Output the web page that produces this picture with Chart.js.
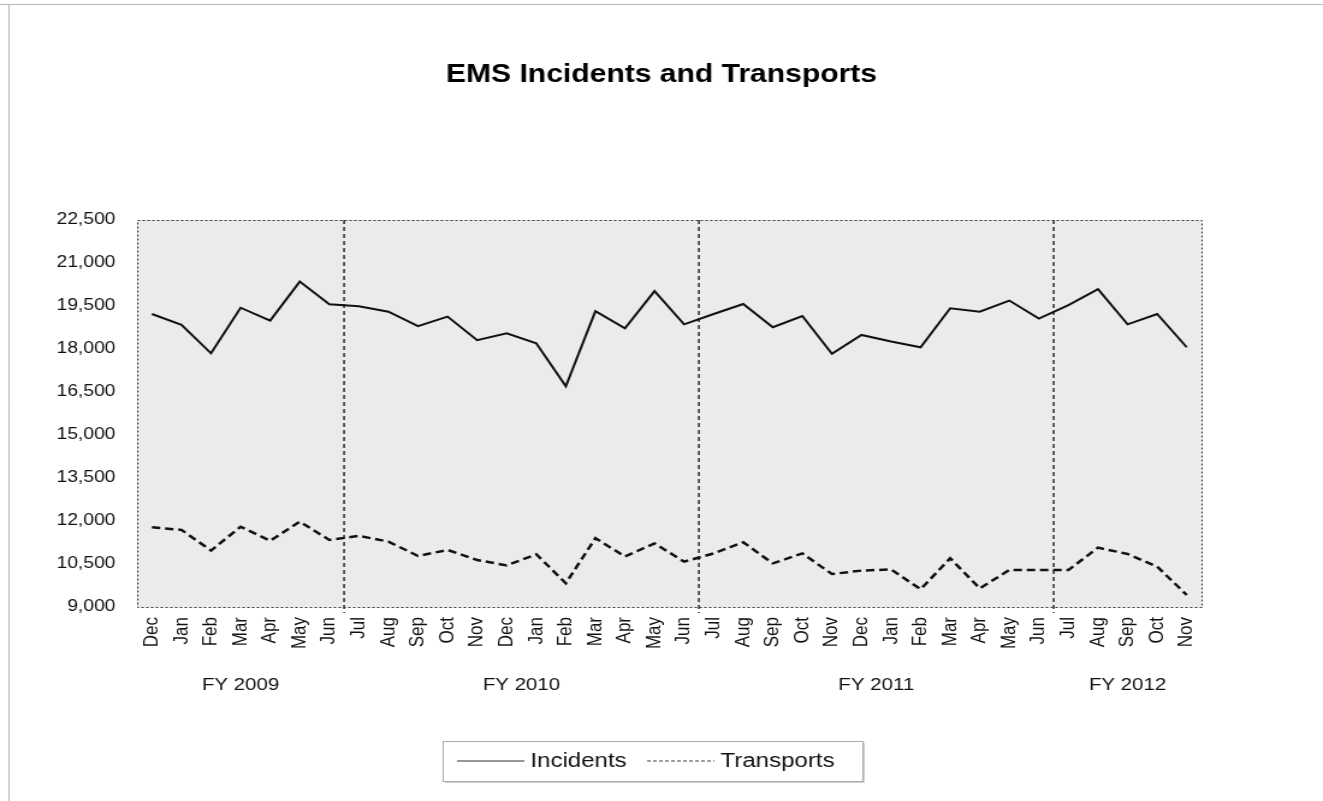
<!DOCTYPE html>
<html>
<head>
<meta charset="utf-8">
<title>EMS Incidents and Transports</title>
<script src="https://cdn.jsdelivr.net/npm/chart.js@4.4.0/dist/chart.umd.min.js"></script>
<style>
  html, body { margin: 0; padding: 0; background: #fff; overflow: hidden; }
  /* the scanned original is stretched sideways, so the whole chart is too */
  #wrap { width: 1100px; height: 801px; transform: scaleX(1.2027); transform-origin: 0 0; }
</style>
</head>
<body>
<div id="wrap"><canvas id="emsChart"></canvas></div>

<script>
var chartTitle = 'EMS Incidents and Transports';

var months = ['Dec','Jan','Feb','Mar','Apr','May','Jun',
  'Jul','Aug','Sep','Oct','Nov','Dec','Jan','Feb','Mar','Apr','May','Jun',
  'Jul','Aug','Sep','Oct','Nov','Dec','Jan','Feb','Mar','Apr','May','Jun',
  'Jul','Aug','Sep','Oct','Nov'];

var incidents = [19220, 18840, 17850, 19440, 18990, 20350, 19560,
  19490, 19300, 18800, 19130, 18310, 18550, 18200, 16700, 19320, 18720, 20020, 18860,
  19220, 19570, 18760, 19150, 17830, 18490, 18260, 18060, 19420, 19300, 19690, 19060,
  19530, 20090, 18860, 19220, 18060];

var transports = [11780, 11690, 10970, 11800, 11310, 11980, 11340,
  11480, 11280, 10780, 10990, 10640, 10450, 10840, 9830, 11400, 10760, 11220, 10580,
  10870, 11260, 10520, 10870, 10150, 10270, 10310, 9620, 10700, 9650, 10290, 10290,
  10290, 11070, 10850, 10410, 9420];

// fiscal year groups (first and last month index)
var fyLabels = ['FY 2009', 'FY 2010', 'FY 2011', 'FY 2012'];
var fyFirst = [0, 7, 19, 31];
var fyLast = [6, 18, 30, 35];

var yTickValues = [9000, 10500, 12000, 13500, 15000, 16500, 18000, 19500, 21000, 22500];
var yTickLabels = ['9,000', '10,500', '12,000', '13,500', '15,000', '16,500', '18,000', '19,500', '21,000', '22,500'];

var FONT = '"Liberation Sans", Arial, sans-serif';

var decorPlugin = {
  id: 'decor',
  beforeDraw: function (chart) {
    var ctx = chart.ctx, a = chart.chartArea;
    ctx.save();
    ctx.fillStyle = '#ffffff';
    ctx.fillRect(0, 0, chart.width, chart.height);
    // faint scan edges
    ctx.strokeStyle = '#b8b8b8';
    ctx.lineWidth = 1;
    ctx.beginPath();
    ctx.moveTo(0, 4.5); ctx.lineTo(chart.width, 4.5);
    ctx.moveTo(7.5, 4); ctx.lineTo(7.5, chart.height);
    ctx.stroke();
    ctx.fillStyle = '#ebebeb';
    ctx.fillRect(a.left, a.top, a.right - a.left, a.bottom - a.top);
    ctx.restore();
  },
  beforeDatasetsDraw: function (chart) {
    var ctx = chart.ctx, a = chart.chartArea, xs = chart.scales.x;
    ctx.save();
    ctx.strokeStyle = '#111';
    ctx.lineWidth = 1.3;
    ctx.setLineDash([4, 3]);
    for (var g = 1; g < fyFirst.length; g++) {
      var x = (xs.getPixelForValue(fyFirst[g] - 1) + xs.getPixelForValue(fyFirst[g])) / 2;
      ctx.beginPath();
      ctx.moveTo(x, a.top);
      ctx.lineTo(x, a.bottom + 6);
      ctx.stroke();
    }
    ctx.restore();
  },
  afterDraw: function (chart) {
    var ctx = chart.ctx, a = chart.chartArea, xs = chart.scales.x;
    ctx.save();
    // plot border
    ctx.strokeStyle = '#333';
    ctx.lineWidth = 1;
    ctx.setLineDash([2, 2]);
    ctx.strokeRect(a.left + 0.5, a.top + 0.5, a.right - a.left, a.bottom - a.top);
    ctx.setLineDash([]);

    // title
    ctx.fillStyle = '#000';
    ctx.font = 'bold 25px ' + FONT;
    ctx.textAlign = 'center';
    ctx.textBaseline = 'middle';
    ctx.fillText(chartTitle, chart.width / 2, 75);

    // fiscal year labels
    ctx.font = '17px ' + FONT;
    ctx.fillStyle = '#111';
    for (var g = 0; g < fyLabels.length; g++) {
      var cx = (xs.getPixelForValue(fyFirst[g]) + xs.getPixelForValue(fyLast[g])) / 2;
      ctx.fillText(fyLabels[g], cx, 685);
    }

    // legend box
    var boxL = 368, boxR = 717, boxT = 741, boxB = 781;
    ctx.fillStyle = '#d0d0d0';
    ctx.fillRect(boxL + 2, boxT + 2, boxR - boxL, boxB - boxT);
    ctx.fillStyle = '#fff';
    ctx.fillRect(boxL, boxT, boxR - boxL, boxB - boxT);
    ctx.strokeStyle = '#aaa';
    ctx.strokeRect(boxL + 0.5, boxT + 0.5, boxR - boxL, boxB - boxT);

    ctx.font = '20px ' + FONT;
    ctx.textAlign = 'left';
    var ly = 761, lx = 380;
    chart.data.datasets.forEach(function (ds, i) {
      ctx.strokeStyle = '#333';
      ctx.lineWidth = 1.2;
      ctx.setLineDash(i === 0 ? [] : [3, 2]);
      ctx.beginPath();
      ctx.moveTo(lx, ly); ctx.lineTo(lx + 56, ly);
      ctx.stroke();
      ctx.setLineDash([]);
      ctx.fillStyle = '#111';
      ctx.fillText(ds.label, lx + 61, ly);
      lx += 61 + ctx.measureText(ds.label).width + 17;
    });
    ctx.restore();
  }
};

var ctx = document.getElementById('emsChart').getContext('2d');
var myChart = new Chart(ctx, {
  type: 'line',
  data: {
    labels: months,
    datasets: [
      {
        label: 'Incidents',
        data: incidents,
        borderColor: '#111',
        borderWidth: 2,
        pointRadius: 0,
        tension: 0,
        fill: false
      },
      {
        label: 'Transports',
        data: transports,
        borderColor: '#111',
        borderWidth: 2.5,
        borderDash: [7, 4],
        pointRadius: 0,
        tension: 0,
        fill: false
      }
    ]
  },
  options: {
    responsive: true,
    maintainAspectRatio: false,
    animation: false,
    layout: { padding: { top: 220, left: 0, right: 101, bottom: 114 } },
    plugins: {
      legend: { display: false },
      title: { display: false },
      tooltip: { enabled: false }
    },
    scales: {
      x: {
        offset: true,
        grid: { display: false, drawTicks: false },
        border: { display: false },
        afterFit: function (scale) { scale.height = 80; },
        ticks: {
          autoSkip: false,
          minRotation: 90,
          maxRotation: 90,
          padding: 10,
          color: '#111',
          font: { family: FONT, size: 17 }
        }
      },
      y: {
        min: 9000,
        max: 22500,
        grid: { display: false, drawTicks: false },
        border: { display: false },
        afterFit: function (scale) { scale.width = 114; },
        afterBuildTicks: function (scale) {
          scale.ticks = yTickValues.map(function (v) { return { value: v }; });
        },
        ticks: {
          padding: 18,
          color: '#111',
          font: { family: FONT, size: 16 },
          callback: function (value, index) { return yTickLabels[index]; }
        }
      }
    }
  },
  plugins: [decorPlugin]
});
</script>
</body>
</html>
